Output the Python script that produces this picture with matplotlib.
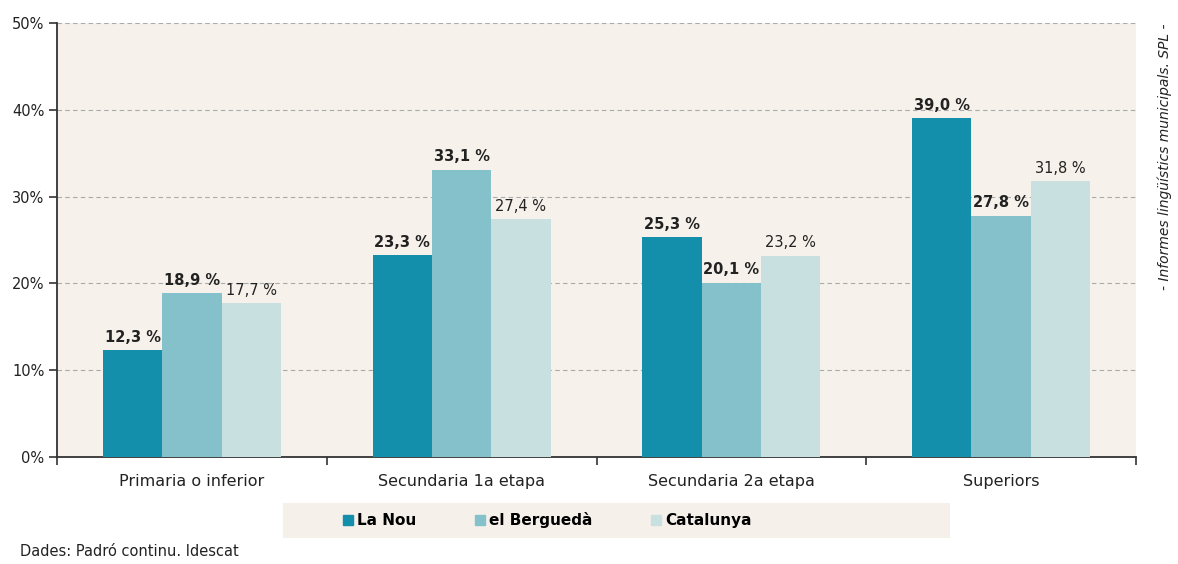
import matplotlib
matplotlib.use("Agg")
import matplotlib.pyplot as plt
from matplotlib.patches import Rectangle
from matplotlib.lines import Line2D
import numpy as np

categories = ["Primaria o inferior", "Secundaria 1a etapa", "Secundaria 2a etapa", "Superiors"]
series_names = ["La Nou", "el Berguedà", "Catalunya"]
la_nou = [12.3, 23.3, 25.3, 39.0]
bergueda = [18.9, 33.1, 20.1, 27.8]
catalunya = [17.7, 27.4, 23.2, 31.8]
yticks = [0, 10, 20, 30, 40, 50]
ytick_labels = ["0%", "10%", "20%", "30%", "40%", "50%"]

colors = ["#138fab", "#85c1cb", "#c9e0e0"]
bg = "#f6f1eb"
txt = "#222222"

plt.rcParams['font.family'] = ['DejaVu Sans']

fig = plt.figure(figsize=(11.78, 5.64), dpi=100)
ax = fig.add_axes([57/1178, 1-457/564, (1136-57)/1178, (457-23)/564])
ax.set_facecolor(bg)

x = np.arange(len(categories))
w = 0.22
series = [la_nou, bergueda, catalunya]
for i, (vals, col) in enumerate(zip(series, colors)):
    pos = x + (i - 1) * w
    ax.bar(pos, vals, width=w, color=col, zorder=3, label=series_names[i])
    for p, v in zip(pos, vals):
        lbl = f"{v:.1f} %".replace(".", ",")
        ax.text(p, v + 0.6, lbl, ha="center", va="bottom", fontsize=10.5,
                fontweight="bold" if i < 2 else "normal", color=txt, zorder=4)

ax.set_xlim(-0.5, 3.5)
ax.set_ylim(0, 50)
ax.set_yticks(yticks)
ax.set_yticklabels(ytick_labels, fontsize=10.5, color=txt)
ax.yaxis.grid(True, linestyle=(0, (4, 3)), color="#aaaaaa", linewidth=0.8, zorder=0)
ax.set_axisbelow(True)
ax.set_xticks(x)
ax.set_xticklabels(categories, fontsize=11.5, color=txt)
ax.set_xticks(np.arange(-0.5, 4.0, 1.0), minor=True)
ax.tick_params(axis="x", which="major", length=0, pad=12)
ax.tick_params(axis="x", which="minor", length=6, width=1.2, color="#333333")
ax.tick_params(axis="y", length=6, width=1.2, color="#333333", pad=3)
for s in ["top", "right"]:
    ax.spines[s].set_visible(False)
for s in ["left", "bottom"]:
    ax.spines[s].set_color("#333333")
    ax.spines[s].set_linewidth(1.3)

# legend box
fig.patches.append(Rectangle((283/1178, 1-538/564), 667/1178, 35/564,
                             transform=fig.transFigure, facecolor="#f5f0ea",
                             edgecolor="none", zorder=0))
handles = [Line2D([], [], marker="s", linestyle="none", markersize=6.5,
                  markerfacecolor=c, markeredgecolor=c) for c in colors]
fig.legend(handles, series_names, loc="center left",
           bbox_to_anchor=(344/1178, 1-520/564), ncol=3, frameon=False,
           prop={"weight": "bold", "size": 11}, handlelength=0.5,
           handletextpad=0.35, columnspacing=3.9, borderaxespad=0, borderpad=0)

fig.text(20/1178, 1-552/564, "Dades: Padró continu. Idescat", fontsize=10.5,
         color=txt, ha="left", va="center")
fig.text(1165/1178, 1-24/564, "- Informes lingüístics municipals. SPL -", fontsize=10,
         style="italic", color=txt, rotation=90, ha="center", va="top")

fig.savefig("out.png", dpi=100)
